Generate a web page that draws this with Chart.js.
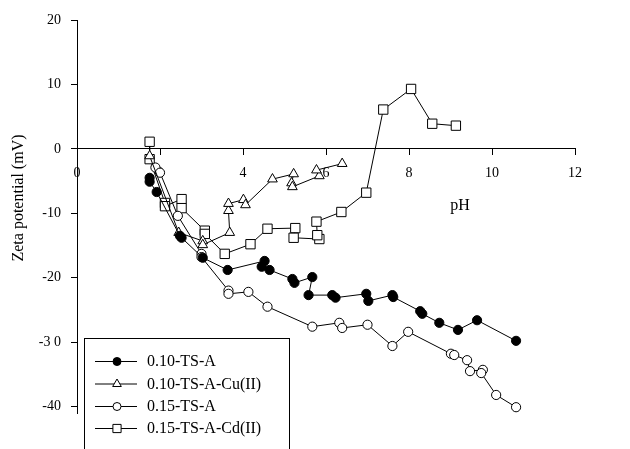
<!DOCTYPE html>
<html>
<head>
<meta charset="utf-8">
<script src="https://cdn.jsdelivr.net/npm/chart.js@4/dist/chart.umd.min.js"></script>
<style>
  html, body { margin: 0; padding: 0; background: #fff; }
  #c { display: block; }
</style>
</head>
<body>
<canvas id="c" width="630" height="449"></canvas>
<script>
// ---- data ----
const seriesNames = ['0.10-TS-A', '0.10-TS-A-Cu(II)', '0.15-TS-A', '0.15-TS-A-Cd(II)'];

const tsA010X = [1.75, 1.75, 1.92, 2.48, 2.52, 3.03, 3.63, 4.52, 4.45, 4.64, 5.19, 5.24, 5.67, 5.58, 6.15, 6.23, 6.97, 7.02, 7.60, 7.62, 8.27, 8.32, 8.73, 9.18, 9.64, 10.58];
const tsA010Y = [-4.5, -5.1, -6.7, -13.5, -13.8, -16.9, -18.8, -17.4, -18.3, -18.8, -20.2, -20.8, -19.9, -22.7, -22.7, -23.1, -22.5, -23.6, -22.7, -23.0, -25.2, -25.6, -27.0, -28.1, -26.6, -29.8];

const tsA010CuX = [1.75, 2.45, 3.03, 3.03, 3.68, 3.65, 3.65, 4.01, 4.06, 4.71, 5.22, 5.17, 5.19, 5.84, 5.77, 6.39];
const tsA010CuY = [-1.1, -13.0, -14.3, -14.9, -13.0, -9.6, -8.5, -7.9, -8.7, -4.7, -3.9, -5.3, -5.9, -4.2, -3.3, -2.3];

const tsA015X = [1.89, 2.0, 2.43, 3.0, 3.0, 3.65, 3.65, 4.13, 4.59, 5.67, 6.32, 6.39, 7.0, 7.6, 7.98, 9.01, 9.09, 9.4, 9.47, 9.78, 9.74, 10.1, 10.58];
const tsA015Y = [-2.9, -3.7, -10.4, -16.3, -16.8, -22.0, -22.5, -22.2, -24.5, -27.6, -27.0, -27.8, -27.3, -30.6, -28.4, -31.8, -32.0, -32.8, -34.5, -34.3, -34.8, -38.2, -40.1];

const tsA015CdX = [1.75, 1.75, 2.12, 2.12, 2.52, 2.52, 3.08, 3.08, 3.56, 4.18, 4.59, 5.26, 5.22, 5.84, 5.79, 5.77, 6.37, 6.97, 7.38, 8.05, 8.56, 9.13];
const tsA015CdY = [1.1, -1.6, -8.4, -8.9, -7.8, -9.2, -12.7, -13.2, -16.3, -14.8, -12.4, -12.3, -13.8, -14.0, -13.4, -11.3, -9.8, -6.8, 6.1, 9.3, 3.9, 3.6];

const xTickValues = [0, 2, 4, 6, 8, 10, 12];
const xTickLabels = ['0', '2', '4', '6', '8', '10', '12'];
const yTickValues = [-40, -30, -20, -10, 0, 10, 20];
const yTickLabels = ['-40', '-3 0', '-20', '-10', '0', '10', '20'];

const xTitle = 'pH';
const yTitle = 'Zeta potential (mV)';

// ---- build ----
const zip = (xs, ys) => xs.map((x, i) => ({ x: x, y: ys[i] }));
const FONT = '"Liberation Serif", "Times New Roman", serif';

const styles = [
  { pointStyle: 'circle',   radius: 4.6, bg: '#000', legendR: 4 },
  { pointStyle: 'triangle', radius: 5.6, bg: '#fff', legendR: 5 },
  { pointStyle: 'circle',   radius: 4.6, bg: '#fff', legendR: 4 },
  { pointStyle: 'rect',     radius: 6.6, bg: '#fff', legendR: 5.8 }
];
const seriesData = [zip(tsA010X, tsA010Y), zip(tsA010CuX, tsA010CuY), zip(tsA015X, tsA015Y), zip(tsA015CdX, tsA015CdY)];

const datasets = seriesData.map((d, i) => ({
  label: seriesNames[i],
  data: d,
  showLine: true,
  borderColor: '#000',
  borderWidth: 1,
  pointStyle: styles[i].pointStyle,
  pointRadius: styles[i].radius,
  pointBackgroundColor: styles[i].bg,
  pointBorderColor: '#000',
  pointBorderWidth: 1,
  tension: 0,
  clip: false
}));

const decorPlugin = {
  id: 'decor',
  afterDraw(chart) {
    const ctx = chart.ctx;
    ctx.save();
    ctx.fillStyle = '#000';
    // y title
    ctx.font = '16px ' + FONT;
    ctx.textAlign = 'center';
    ctx.textBaseline = 'middle';
    ctx.save();
    ctx.translate(19, 198);
    ctx.rotate(-Math.PI / 2);
    ctx.fillText(yTitle, 0, 0);
    ctx.restore();
    // x title
    ctx.textBaseline = 'alphabetic';
    ctx.fillText(xTitle, 460, 210);

    // legend box
    const bx = 84.5, by = 338.5, bw = 205, bh = 120;
    ctx.fillStyle = '#fff';
    ctx.fillRect(bx, by, bw, bh);
    ctx.strokeStyle = '#000';
    ctx.lineWidth = 1;
    ctx.strokeRect(bx, by, bw, bh);
    const rows = [361, 383.5, 406, 428];
    ctx.font = '16px ' + FONT;
    ctx.textAlign = 'left';
    ctx.textBaseline = 'middle';
    rows.forEach((ry, i) => {
      ctx.beginPath();
      ctx.moveTo(95, ry + 0.5);
      ctx.lineTo(137, ry + 0.5);
      ctx.strokeStyle = '#000';
      ctx.lineWidth = 1;
      ctx.stroke();
      ctx.fillStyle = styles[i].bg;
      ctx.strokeStyle = '#000';
      Chart.helpers.drawPoint(ctx, { pointStyle: styles[i].pointStyle, radius: styles[i].legendR, borderWidth: 1 }, 117, ry + 0.5);
      ctx.fillStyle = '#000';
      ctx.fillText(seriesNames[i], 147, ry + 1);
    });
    ctx.restore();
  }
};

new Chart(document.getElementById('c'), {
  type: 'scatter',
  data: { datasets: datasets },
  options: {
    responsive: false,
    animation: false,
    devicePixelRatio: 1,
    layout: { padding: { left: 0, right: 55, top: 20, bottom: 36 } },
    plugins: { legend: { display: false }, tooltip: { enabled: false } },
    scales: {
      x: {
        type: 'linear',
        position: { y: 0 },
        min: 0, max: 12,
        afterFit(s) { s.height = 0; },
        afterBuildTicks(s) { s.ticks = xTickValues.map(v => ({ value: v })); },
        ticks: {
          color: '#000',
          font: { family: FONT, size: 14 },
          padding: 10,
          maxRotation: 0,
          autoSkip: false,
          callback: (v) => xTickLabels[xTickValues.indexOf(v)]
        },
        grid: { drawOnChartArea: false, drawTicks: true, tickLength: 6, color: '#000' },
        border: { display: true, color: '#000', width: 1 }
      },
      y: {
        type: 'linear',
        min: -41, max: 20,
        afterFit(s) { s.width = 77; },
        afterBuildTicks(s) { s.ticks = yTickValues.map(v => ({ value: v })); },
        ticks: {
          color: '#000',
          font: { family: FONT, size: 14 },
          padding: 10,
          autoSkip: false,
          callback: (v) => yTickLabels[yTickValues.indexOf(v)]
        },
        grid: { drawOnChartArea: false, drawTicks: true, tickLength: 6, color: '#000' },
        border: { display: true, color: '#000', width: 1 }
      }
    }
  },
  plugins: [decorPlugin]
});
</script>
</body>
</html>
